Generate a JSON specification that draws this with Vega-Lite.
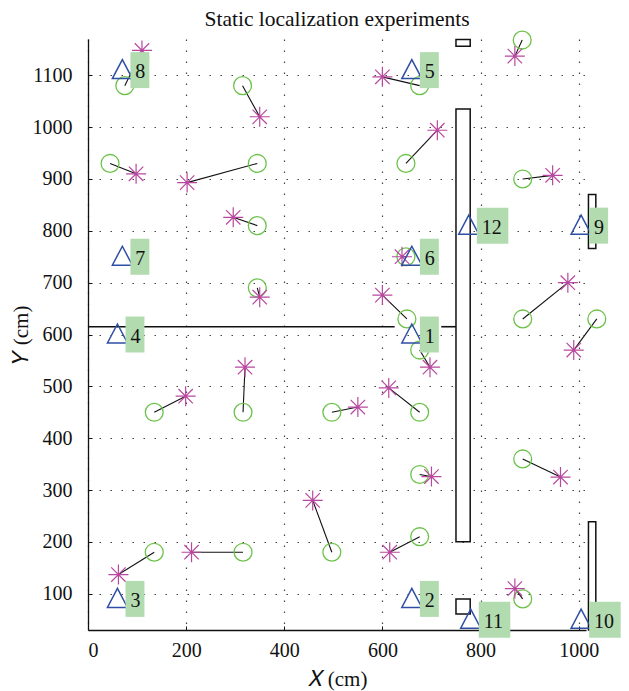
{
  "$schema": "https://vega.github.io/schema/vega-lite/v6.json",
  "width": 498,
  "height": 591,
  "autosize": "none",
  "padding": {"left": 88, "top": 39, "right": 43, "bottom": 61},
  "background": "white",
  "title": {"text": "Static localization experiments", "font": "Liberation Serif", "fontSize": 21.5, "fontWeight": "normal", "color": "#111", "anchor": "middle", "baseline": "alphabetic", "offset": 4, "dy": 23},
  "config": {
    "view": {"stroke": null},
    "axis": {
      "labelFont": "Liberation Serif", "labelFontSize": 20, "labelColor": "#111", "format": "d",
      "titleFont": "Liberation Serif", "titleFontSize": 21, "titleFontWeight": "normal", "titleColor": "#111",
      "domainColor": "#111", "domainWidth": 1.3, "tickColor": "#111", "tickSize": -4, "tickWidth": 1,
      "grid": true, "gridColor": "#444", "gridDash": [1.5, 9.5], "gridWidth": 1.2, "gridOpacity": 1
    }
  },
  "datasets": {
    "pairs": [
      {"x": 75, "y": 1080, "ex": 110, "ey": 1148},
      {"x": 315, "y": 1080, "ex": 350, "ey": 1020},
      {"x": 45, "y": 930, "ex": 98, "ey": 910},
      {"x": 345, "y": 930, "ex": 202, "ey": 893},
      {"x": 345, "y": 810, "ex": 296, "ey": 826},
      {"x": 345, "y": 690, "ex": 350, "ey": 672},
      {"x": 885, "y": 1168, "ex": 870, "ey": 1137},
      {"x": 676, "y": 1080, "ex": 600, "ey": 1097},
      {"x": 648, "y": 930, "ex": 712, "ey": 994},
      {"x": 886, "y": 900, "ex": 947, "ey": 907},
      {"x": 648, "y": 750, "ex": 640, "ey": 750},
      {"x": 650, "y": 630, "ex": 600, "ey": 676},
      {"x": 886, "y": 630, "ex": 978, "ey": 700},
      {"x": 1037, "y": 630, "ex": 990, "ey": 570},
      {"x": 676, "y": 570, "ex": 697, "ey": 537},
      {"x": 497, "y": 450, "ex": 550, "ey": 460},
      {"x": 676, "y": 450, "ex": 613, "ey": 497},
      {"x": 676, "y": 330, "ex": 700, "ey": 326},
      {"x": 886, "y": 360, "ex": 963, "ey": 325},
      {"x": 497, "y": 180, "ex": 458, "ey": 280},
      {"x": 676, "y": 210, "ex": 615, "ey": 180},
      {"x": 886, "y": 90, "ex": 870, "ey": 110},
      {"x": 135, "y": 450, "ex": 199, "ey": 481},
      {"x": 316, "y": 450, "ex": 320, "ey": 537},
      {"x": 135, "y": 180, "ex": 62, "ey": 137},
      {"x": 316, "y": 180, "ex": 211, "ey": 180}
    ],
    "anchors": [
      {"x": 660, "y": 600, "id": "1"},
      {"x": 660, "y": 90, "id": "2"},
      {"x": 60, "y": 90, "id": "3"},
      {"x": 60, "y": 600, "id": "4"},
      {"x": 660, "y": 1110, "id": "5"},
      {"x": 660, "y": 750, "id": "6"},
      {"x": 70, "y": 750, "id": "7"},
      {"x": 70, "y": 1110, "id": "8"},
      {"x": 1005, "y": 810, "id": "9"},
      {"x": 1005, "y": 50, "id": "10"},
      {"x": 780, "y": 50, "id": "11"},
      {"x": 776, "y": 810, "id": "12"}
    ],
    "walls": [
      {"x": 0, "x2": 625, "y": 615, "y2": 615},
      {"x": 720, "x2": 750, "y": 615, "y2": 615}
    ],
    "obstacles": [
      {"x": 750, "x2": 779, "y": 1156, "y2": 1169},
      {"x": 750, "x2": 779, "y": 200, "y2": 1035},
      {"x": 750, "x2": 779, "y": 61, "y2": 90},
      {"x": 1020, "x2": 1035, "y": 766, "y2": 870},
      {"x": 1020, "x2": 1035, "y": 30, "y2": 239}
    ]
  },
  "encoding": {
    "x": {"field": "x", "type": "quantitative", "scale": {"domain": [0, 1015], "nice": false, "zero": false},
          "axis": {"title": "𝑋 (cm)", "values": [0, 200, 400, 600, 800, 1000], "labelPadding": 14, "titlePadding": 8}},
    "y": {"field": "y", "type": "quantitative", "scale": {"domain": [30, 1170], "nice": false, "zero": false},
          "axis": {"title": "𝑌 (cm)", "values": [100, 200, 300, 400, 500, 600, 700, 800, 900, 1000, 1100], "labelPadding": 20, "titlePadding": 1}}
  },
  "layer": [
    {
      "data": {"name": "walls"},
      "mark": {"type": "rule", "color": "#111", "strokeWidth": 1.6},
      "encoding": {"x2": {"field": "x2"}, "y2": {"field": "y2"}}
    },
    {
      "data": {"name": "obstacles"},
      "mark": {"type": "rect", "fill": "white", "stroke": "#111", "strokeWidth": 1.5},
      "encoding": {"x2": {"field": "x2"}, "y2": {"field": "y2"}}
    },
    {
      "data": {"name": "pairs"},
      "mark": {"type": "rule", "color": "#111", "strokeWidth": 1.1},
      "encoding": {"x2": {"field": "ex"}, "y2": {"field": "ey"}}
    },
    {
      "data": {"name": "pairs"},
      "mark": {"type": "point", "shape": "circle", "size": 320, "filled": false, "stroke": "#6cc24a", "strokeWidth": 1.3, "opacity": 1}
    },
    {
      "data": {"name": "pairs"},
      "mark": {"type": "point", "shape": "M-1,0L1,0M0,-1L0,1M-0.72,-0.72L0.72,0.72M-0.72,0.72L0.72,-0.72", "size": 400, "filled": false, "stroke": "#b8489f", "strokeWidth": 1.2, "opacity": 1},
      "encoding": {
        "x": {"field": "ex", "type": "quantitative", "scale": {"domain": [0, 1015], "nice": false, "zero": false},
              "axis": {"title": "𝑋 (cm)", "values": [0, 200, 400, 600, 800, 1000], "labelPadding": 14, "titlePadding": 8}},
        "y": {"field": "ey", "type": "quantitative", "scale": {"domain": [30, 1170], "nice": false, "zero": false},
              "axis": {"title": "𝑌 (cm)", "values": [100, 200, 300, 400, 500, 600, 700, 800, 900, 1000, 1100], "labelPadding": 20, "titlePadding": 1}}
      }
    },
    {
      "data": {"name": "anchors"},
      "mark": {"type": "point", "shape": "M0,-1.05L1,0.85L-1,0.85Z", "size": 400, "filled": false, "stroke": "#2f4fa5", "strokeWidth": 1.5, "opacity": 1}
    },
    {
      "data": {"name": "anchors"},
      "transform": [{"filter": "length(datum.id) == 1"}],
      "mark": {"type": "point", "shape": "M0.45,-1L1.5,-1L1.5,1L0.45,1Z", "size": 1296, "filled": true, "fill": "#b2dbb0", "strokeWidth": 0, "opacity": 1}
    },
    {
      "data": {"name": "anchors"},
      "transform": [{"filter": "length(datum.id) == 2"}],
      "mark": {"type": "point", "shape": "M0.45,-1L2.2,-1L2.2,1L0.45,1Z", "size": 1296, "filled": true, "fill": "#b2dbb0", "strokeWidth": 0, "opacity": 1}
    },
    {
      "data": {"name": "anchors"},
      "mark": {"type": "text", "font": "Liberation Serif", "fontSize": 20, "align": "left", "baseline": "middle", "dx": 13, "dy": 2, "color": "#111"},
      "encoding": {"text": {"field": "id"}}
    }
  ]
}
